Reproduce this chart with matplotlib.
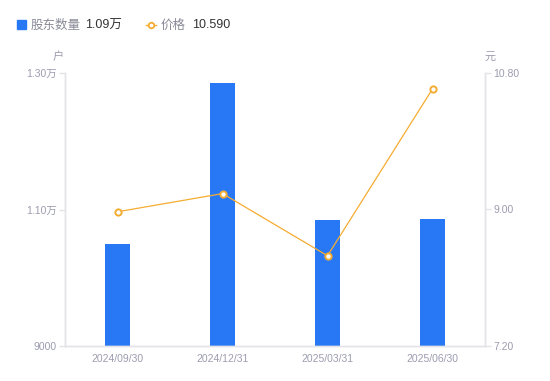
import numpy as np
import matplotlib
matplotlib.use('Agg')
import matplotlib.pyplot as plt
from matplotlib.lines import Line2D
from matplotlib.patches import Rectangle

plt.rcParams['font.family'] = ['Liberation Sans', 'Noto Sans CJK SC', 'DejaVu Sans']
plt.rcParams['axes.unicode_minus'] = False

# 数据
dates = ['2024/09/30', '2024/12/31', '2025/03/31', '2025/06/30']
holders = [10490, 12860, 10850, 10860]   # 股东数量(户)
price = [8.97, 9.21, 8.39, 10.59]        # 价格(元)
left_ticks = [9000, 11000, 13000]
left_labels = ['9000', '1.10万', '1.30万']
right_ticks = [7.20, 9.00, 10.80]

bar_color = '#2878f6'
line_color = '#f5ac32'
tick_color = '#9c9cb0'
axis_color = '#e3e3e8'

fig = plt.figure(figsize=(5.5, 3.81), dpi=100)
ax = fig.add_axes([65 / 550, 35 / 381, 420 / 550, 273 / 381])
ax2 = ax.twinx()

x = np.arange(len(dates))
ax.bar(x, holders, width=0.238, color=bar_color, zorder=2)
ax.set_xlim(-0.5, len(dates) - 0.5)
ax.set_ylim(9000, 13000)
ax.set_yticks(left_ticks)
ax.set_yticklabels(left_labels)
ax.set_xticks(x)
ax.set_xticklabels(dates)

ax2.plot(x, price, color=line_color, lw=0.9, marker='o', ms=4.5,
         mfc='white', mec=line_color, mew=1.4, zorder=3)
ax2.set_ylim(7.2, 10.8)
ax2.set_yticks(right_ticks)
ax2.set_yticklabels([f'{v:.2f}' for v in right_ticks])

for a in (ax, ax2):
    a.spines['top'].set_visible(False)
    for s in ('left', 'right', 'bottom'):
        a.spines[s].set_color(axis_color)
        a.spines[s].set_linewidth(1)
    a.tick_params(axis='y', colors=axis_color, labelcolor=tick_color,
                  labelsize=7.5, length=4, width=1, pad=2)
ax.tick_params(axis='x', length=0, labelcolor=tick_color, labelsize=7.5, pad=6)
ax2.tick_params(axis='x', length=0)

# 单位
fig.text(58 / 550, 1 - 57 / 381, '户', color=tick_color, fontsize=8,
         ha='center', va='center')
fig.text(490 / 550, 1 - 57 / 381, '元', color=tick_color, fontsize=8,
         ha='center', va='center')

# 图例
ly = 1 - 28.5 / 381  # 文字基线
fig.patches.append(Rectangle((17 / 550, 1 - 29 / 381), 9 / 550, 9 / 381,
                             transform=fig.transFigure, color=bar_color))
fig.text(31 / 550, ly, '股东数量', color='#8a8a98', fontsize=9,
         va='baseline', ha='left')
fig.text(85 / 550, ly, '1.09万', color='#333333', fontsize=9,
         va='baseline', ha='left')
fig.lines.append(Line2D([146 / 550, 156 / 550], [1 - 24.5 / 381, 1 - 24.5 / 381],
                        transform=fig.transFigure, color=line_color, lw=1))
fig.lines.append(Line2D([151 / 550], [1 - 24.5 / 381], transform=fig.transFigure,
                        marker='o', ms=4, mfc='white', mec=line_color, mew=1.3))
fig.text(161 / 550, ly, '价格', color='#8a8a98', fontsize=9,
         va='baseline', ha='left')
fig.text(192 / 550, ly, '10.590', color='#333333', fontsize=9,
         va='baseline', ha='left')

fig.savefig('out.png', dpi=100)
